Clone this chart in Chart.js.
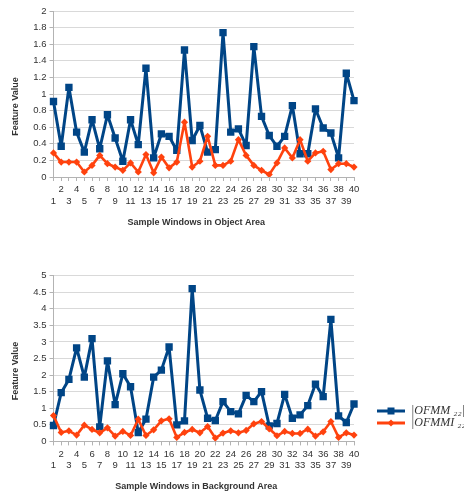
<!DOCTYPE html>
<html><head><meta charset="utf-8">
<script src="https://cdn.jsdelivr.net/npm/chart.js@4.4.1/dist/chart.umd.min.js"></script>
<style>
html,body{margin:0;padding:0;background:#fff;width:464px;height:497px;overflow:hidden}
canvas{position:absolute;left:0}
#c1{top:0}
#c2{top:240px}
</style></head><body>
<canvas id="c1" width="464" height="240"></canvas>
<canvas id="c2" width="464" height="257"></canvas>
<script>
const categories = ['1','2','3','4','5','6','7','8','9','10','11','12','13','14','15','16','17','18','19','20',
  '21','22','23','24','25','26','27','28','29','30','31','32','33','34','35','36','37','38','39','40'];
const seriesNames = ['|OFMM \u2082\u2082|', '|OFMMI \u2082\u2082|'];
const yTitle = 'Feature Value';
const xTitleTop = 'Sample Windows in Object Area';
const xTitleBottom = 'Sample Windows in Background Area';

const objectOFMM = [0.91,0.37,1.08,0.54,0.30,0.69,0.34,0.75,0.47,0.19,0.69,0.39,1.31,0.23,0.52,0.49,0.32,1.53,0.44,0.62,
  0.30,0.33,1.74,0.54,0.58,0.38,1.57,0.73,0.50,0.37,0.49,0.86,0.28,0.28,0.82,0.59,0.53,0.23,1.25,0.92];
const objectOFMMI = [0.29,0.18,0.18,0.18,0.06,0.14,0.26,0.16,0.12,0.08,0.17,0.06,0.27,0.05,0.24,0.11,0.18,0.66,0.12,0.19,
  0.49,0.14,0.14,0.19,0.45,0.26,0.14,0.08,0.03,0.17,0.35,0.23,0.45,0.19,0.29,0.31,0.09,0.16,0.16,0.12];
const backgroundOFMM = [0.48,1.47,1.87,2.82,1.94,3.10,0.44,2.43,1.11,2.04,1.65,0.27,0.67,1.94,2.15,2.85,0.50,0.62,4.61,1.55,
  0.70,0.63,1.20,0.90,0.83,1.39,1.20,1.50,0.47,0.54,1.42,0.70,0.80,1.08,1.73,1.35,3.68,0.77,0.57,1.13];
const backgroundOFMMI = [0.78,0.27,0.32,0.19,0.49,0.36,0.26,0.41,0.16,0.30,0.18,0.67,0.18,0.35,0.62,0.68,0.12,0.27,0.36,0.26,
  0.45,0.10,0.25,0.32,0.26,0.33,0.53,0.60,0.38,0.17,0.30,0.24,0.24,0.37,0.16,0.29,0.60,0.12,0.26,0.19];

const BLUE = '#004586', ORANGE = '#ff420e';
const SANS = "'Liberation Sans', Arial, sans-serif";

function datasets(blue, orange) {
  return [
    { label: seriesNames[0], data: blue, borderColor: BLUE, backgroundColor: BLUE, borderWidth: 3, borderJoinStyle: 'round',
      pointStyle: 'rect', pointRadius: 5.2, pointBorderWidth: 0, pointBackgroundColor: BLUE, tension: 0, order: 1 },
    { label: seriesNames[1], data: orange, borderColor: ORANGE, backgroundColor: ORANGE, borderWidth: 2.6, borderJoinStyle: 'round',
      pointStyle: 'rectRot', pointRadius: 3.6, pointBorderWidth: 0, pointBackgroundColor: ORANGE, tension: 0, order: 0 }
  ];
}

function options(yMax, yStep, xTitle, pad, showLegend) {
  return {
    responsive: false, animation: false, devicePixelRatio: 1,
    layout: { padding: pad },
    plugins: {
      legend: showLegend ? {
        display: true, position: 'chartArea', align: 'start',
        labels: {
          usePointStyle: true, pointStyleWidth: 28, boxHeight: 10, padding: 0,
          color: '#333', font: { family: "'Liberation Serif', 'Times New Roman', serif", style: 'italic', size: 12, lineHeight: 1 },
          generateLabels: (chart) => chart.data.datasets.map((d, i) => ({
            text: d.label, pointStyle: legendIcon(d.borderColor, i === 0 ? 'rect' : 'diamond'),
            fillStyle: d.borderColor, strokeStyle: d.borderColor, lineWidth: 0, hidden: false, datasetIndex: i, fontColor: '#333'
          }))
        }
      } : { display: false },
      tooltip: { enabled: false }
    },
    scales: {
      x: {
        type: 'category', offset: false,
        grid: { drawOnChartArea: false, drawTicks: true, tickLength: 4, color: '#b3b3b3' },
        border: { display: true, color: '#b3b3b3' },
        ticks: {
          autoSkip: false, maxRotation: 0, minRotation: 0, padding: 3, color: '#333',
          font: { family: SANS, size: 9.5, lineHeight: 1.2 },
          callback: (v, i) => (i % 2 === 0) ? ['', categories[i]] : [categories[i], '']
        },
        title: { display: true, text: xTitle + '      ', color: '#333',
          font: { family: SANS, size: 9, weight: 'bold', lineHeight: 1.2 }, padding: { top: 0, bottom: 0 } },
        afterFit: (s) => { s.height = 51; }
      },
      y: {
        min: 0, max: yMax,
        grid: { color: '#d9d9d9', tickLength: 4, tickColor: '#b3b3b3' },
        border: { display: true, color: '#b3b3b3' },
        ticks: { stepSize: yStep, padding: 3, color: '#333', font: { family: SANS, size: 9.5 },
          callback: (v) => String(+v.toFixed(1)) },
        title: { display: true, text: yTitle + '          ', color: '#333',
          font: { family: SANS, size: 9, weight: 'bold', lineHeight: 1.2 }, padding: { top: 10, bottom: 0 } },
        afterFit: (s) => { s.width = 53.5; }
      }
    }
  };
}

function legendIcon(color, shape) {
  const c = document.createElement('canvas');
  c.width = 28; c.height = 10;
  const g = c.getContext('2d');
  g.strokeStyle = color; g.lineWidth = 3;
  g.beginPath(); g.moveTo(0, 5); g.lineTo(28, 5); g.stroke();
  g.fillStyle = color;
  if (shape === 'rect') {
    g.fillRect(10.5, 1.5, 7, 7);
  } else {
    g.beginPath(); g.moveTo(14, 1.5); g.lineTo(17.5, 5); g.lineTo(14, 8.5); g.lineTo(10.5, 5); g.closePath(); g.fill();
  }
  return c;
}

const legendPlacer = {
  id: 'legendPlacer',
  beforeDraw(chart) {
    const lg = chart.legend;
    if (!lg || !lg.options.display) return;
    const w = lg.width, h = lg.height;
    lg.left = 377; lg.top = 165; lg.right = 377 + w; lg.bottom = 165 + h;
  }
};

new Chart(document.getElementById('c1'), {
  type: 'line',
  data: { labels: categories, datasets: datasets(objectOFMM, objectOFMMI) },
  options: options(2, 0.2, xTitleTop, { left: 0, right: 110, top: 11, bottom: 12 }, false)
});

new Chart(document.getElementById('c2'), {
  type: 'line',
  data: { labels: categories, datasets: datasets(backgroundOFMM, backgroundOFMMI) },
  options: options(5, 0.5, xTitleBottom, { left: 0, right: 110, top: 35.7, bottom: 4.6 }, true),
  plugins: [legendPlacer]
});
</script>
</body></html>
